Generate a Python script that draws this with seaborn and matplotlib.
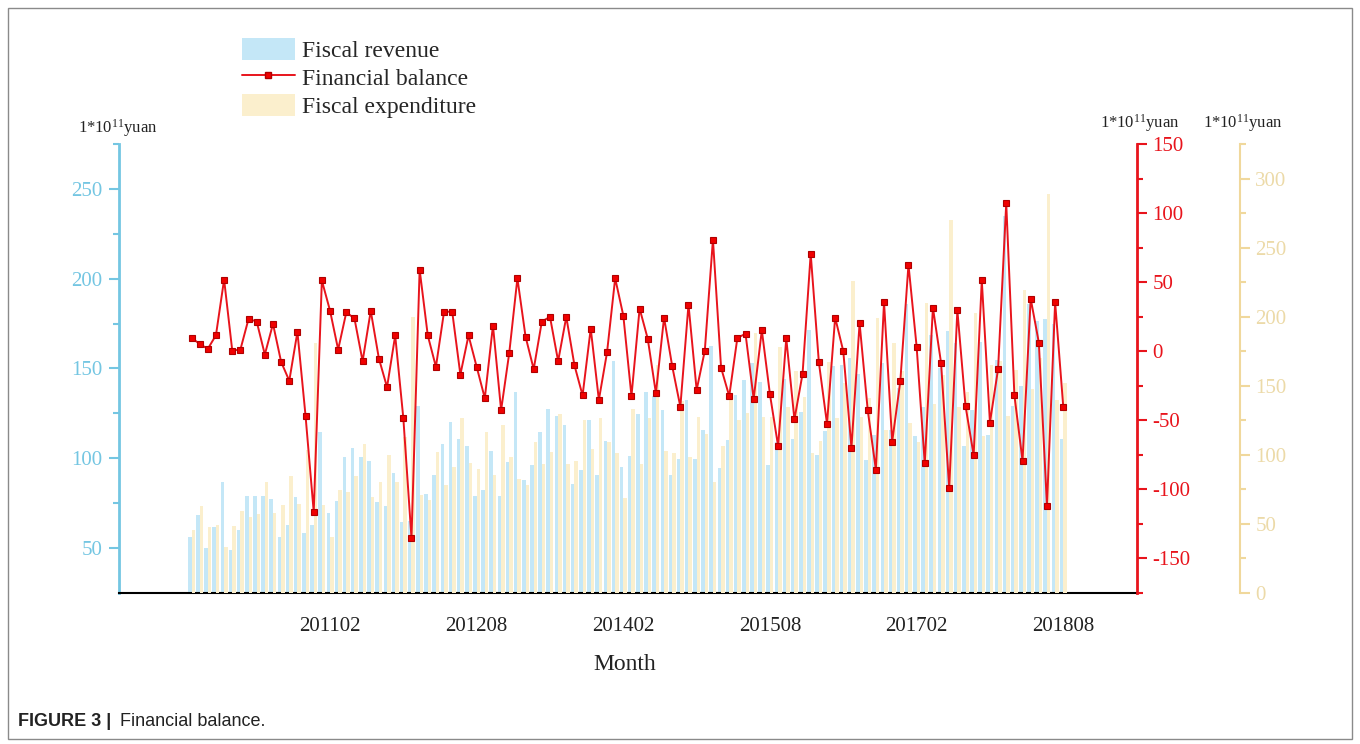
import numpy as np
import matplotlib
matplotlib.use("Agg")
import matplotlib.pyplot as plt
from matplotlib.patches import Patch, Rectangle
from matplotlib.lines import Line2D
import seaborn as sns

# ---------------- data (monthly, 2009-09 .. 2018-08) ----------------
revenue = [56.1, 68.6, 50.0, 62.0, 86.6, 49.0, 60.2, 79.2, 79.2, 78.8, 77.5, 56.1,
           62.8, 78.4, 58.4, 62.8, 114.7, 69.8, 76.0, 100.7, 105.7, 100.5, 98.5, 75.4,
           73.6, 91.8, 64.3, 65.0, 128.9, 80.1, 90.5, 108.0, 120.0, 110.8, 106.6, 78.8,
           82.5, 104.2, 78.8, 97.7, 136.7, 87.7, 96.0, 114.4, 127.5, 123.7, 118.3, 85.7,
           93.6, 121.5, 90.9, 109.4, 154.4, 94.9, 101.1, 124.9, 136.7, 134.5, 126.7, 90.9,
           99.6, 132.7, 99.6, 115.9, 162.4, 94.6, 110.0, 135.1, 143.8, 153.1, 142.5, 96.4,
           109.0, 144.2, 110.8, 125.6, 171.6, 102.0, 115.0, 151.2, 152.0, 156.0, 147.2, 98.8,
           113.0, 153.1, 115.6, 139.2, 186.0, 112.6, 128.5, 168.7, 150.0, 170.7, 164.4, 106.6,
           127.1, 165.0, 113.2, 155.0, 234.8, 128.9, 140.1, 186.1, 176.3, 177.3, 175.0, 110.8]

balance = [9.7, 5.3, 1.7, 11.6, 51.9, 0.5, 1.2, 23.4, 21.5, -2.4, 19.8, -7.7,
           -21.4, 14.0, -47.0, -116.2, 51.2, 29.4, 1.2, 28.2, 23.7, -7.2, 29.2, -5.3,
           -26.0, 11.4, -48.5, -135.3, 59.1, 11.4, -11.3, 28.7, 28.5, -16.9, 11.4, -11.3,
           -34.0, 18.6, -42.7, -1.2, 52.8, 10.6, -13.0, 21.5, 24.9, -7.2, 24.9, -10.1,
           -32.0, 16.4, -35.2, -0.9, 52.8, 25.8, -32.5, 30.9, 9.0, -30.4, 24.4, -10.8,
           -40.2, 33.8, -28.0, 0.3, 80.8, -12.0, -32.5, 9.7, 12.6, -34.5, 15.2, -31.3,
           -68.7, 9.4, -49.4, -16.4, 70.5, -7.9, -52.5, 24.4, 0.0, -69.9, 20.3, -42.7,
           -85.8, 35.5, -65.5, -21.7, 62.7, 3.4, -81.2, 31.6, -8.4, -99.1, 29.7, -39.5,
           -75.2, 51.2, -51.6, -12.8, 107.1, -31.8, -79.3, 38.1, 6.3, -111.9, 35.5, -40.2]

expenditure = [45.8, 62.8, 47.5, 49.4, 33.1, 48.8, 59.2, 54.9, 57.3, 80.3, 57.8, 64.0,
               84.7, 64.6, 103.3, 180.7, 63.4, 40.3, 74.2, 73.0, 84.7, 107.6, 69.4, 80.3,
               99.6, 80.3, 113.0, 200.0, 70.6, 67.5, 102.0, 77.9, 91.2, 127.0, 94.3, 90.0,
               116.5, 85.1, 121.4, 98.4, 82.7, 77.9, 109.3, 93.6, 102.0, 129.9, 93.1, 95.5,
               125.5, 104.5, 127.0, 109.3, 101.4, 68.9, 133.5, 93.6, 127.0, 165.0, 102.5, 101.6,
               139.0, 98.4, 127.4, 115.4, 80.3, 106.2, 142.0, 125.0, 130.6, 188.4, 127.4, 127.5,
               177.8, 134.5, 160.8, 142.0, 101.3, 110.0, 167.3, 127.0, 152.0, 226.0, 127.4, 140.8,
               198.8, 117.8, 181.1, 160.9, 123.0, 109.2, 209.7, 137.1, 158.0, 270.2, 134.7, 145.6,
               202.5, 114.0, 164.9, 168.0, 127.8, 161.3, 219.4, 148.0, 170.0, 289.0, 139.5, 151.7]

tick_labels = ["", "201102", "201208", "201402", "201508", "201702", "201808"]

# ---------------- style ----------------
sns.set_theme(style="white")
plt.rcParams["font.family"] = ["Liberation Serif", "DejaVu Serif"]
plt.rcParams["mathtext.fontset"] = "custom"
plt.rcParams["mathtext.rm"] = "Liberation Serif"
plt.rcParams["mathtext.it"] = "Liberation Serif:italic"
plt.rcParams["axes.unicode_minus"] = False

BLUE_BAR = "#c4e7f7"
YEL_BAR = "#fbefcd"
BLUE_AX = "#74c6e2"
RED = "#e8141c"
YEL_AX = "#f0d89c"
YEL_TXT = "#ecdaa8"

W, H = 1360, 744
fig = plt.figure(figsize=(W / 100, H / 100), dpi=100)
fig.patch.set_facecolor("white")

L, R, B, T = 119, 1137, 593, 144
ax = fig.add_axes([L / W, 1 - B / H, (R - L) / W, (B - T) / H])
ax_y = ax.twinx()
ax_r = ax.twinx()
for a in (ax, ax_y, ax_r):
    a.set_facecolor("none")
    a.grid(False)

n = len(revenue)
idx = np.arange(n)
half = 0.215
bw = 0.43

sns.barplot(x=idx - half, y=revenue, native_scale=True, width=bw, color=BLUE_BAR,
            saturation=1, linewidth=0, errorbar=None, orient="x", ax=ax)
sns.barplot(x=idx + half, y=expenditure, native_scale=True, width=bw, color=YEL_BAR,
            saturation=1, linewidth=0, errorbar=None, orient="x", ax=ax_y)
sns.lineplot(x=idx, y=balance, ax=ax_r, color=RED, linewidth=1.4, marker="s",
             markersize=4.6, markerfacecolor="#f00000", markeredgecolor="#b00000",
             markeredgewidth=0.8, legend=False)

# ---------------- axes ----------------
ax.set_xlim(-8.9, 116.05)
ax.set_ylim(25, 275)
ax_y.set_ylim(0, 325)
ax_r.set_ylim(-175, 150)
for a in (ax, ax_y, ax_r):
    a.set_xlabel("")
    a.set_ylabel("")

major_x = [-1, 17, 35, 53, 71, 89, 107]
ax.set_xticks(major_x)
ax.set_xticklabels(tick_labels)
ax.set_xticks([8, 26, 44, 62, 80, 98, 116], minor=True)
ax.tick_params(axis="x", which="major", direction="out", length=8, width=1.5,
               color="black", labelsize=15, pad=9, labelcolor="#222222")
ax.tick_params(axis="x", which="minor", direction="out", length=5, width=1.5, color="black")

ax.set_yticks([50, 100, 150, 200, 250])
ax.set_yticks([75, 125, 175, 225, 275], minor=True)
ax.tick_params(axis="y", which="major", direction="out", length=7, width=1.5,
               color=BLUE_AX, labelcolor=BLUE_AX, labelsize=15, pad=5)
ax.tick_params(axis="y", which="minor", direction="out", length=4, width=1.5, color=BLUE_AX)

ax_r.set_yticks([-150, -100, -50, 0, 50, 100, 150])
ax_r.set_yticks([-175, -125, -75, -25, 25, 75, 125], minor=True)
ax_r.tick_params(axis="y", which="major", direction="out", length=7, width=1.5,
                 color=RED, labelcolor=RED, labelsize=15, pad=4)
ax_r.tick_params(axis="y", which="minor", direction="out", length=4, width=1.5, color=RED)

ax_y.set_yticks([0, 50, 100, 150, 200, 250, 300])
ax_y.set_yticks([25, 75, 125, 175, 225, 275, 325], minor=True)
ax_y.tick_params(axis="y", which="major", direction="out", length=7, width=1.5,
                 color=YEL_AX, labelcolor=YEL_TXT, labelsize=15, pad=4)
ax_y.tick_params(axis="y", which="minor", direction="out", length=4, width=1.5, color=YEL_AX)
ax_y.spines["right"].set_position(("axes", (1240 - L) / (R - L)))

for s in ("top", "right"):
    ax.spines[s].set_visible(False)
ax.spines["left"].set_color(BLUE_AX)
ax.spines["left"].set_linewidth(2)
ax.spines["bottom"].set_color("black")
ax.spines["bottom"].set_linewidth(1.5)
for a in (ax_y, ax_r):
    for s in ("top", "left", "bottom"):
        a.spines[s].set_visible(False)
ax_r.spines["right"].set_color(RED)
ax_r.spines["right"].set_linewidth(2)
ax_y.spines["right"].set_color(YEL_AX)
ax_y.spines["right"].set_linewidth(1.5)

# ---------------- texts ----------------
unit = r"1*10$^{11}$yuan"
fig.text(78 / W, 1 - 128 / H, unit, fontsize=12, va="center", ha="left", color="#222222")
fig.text(1100 / W, 1 - 123 / H, unit, fontsize=12, va="center", ha="left", color="#222222")
fig.text(1203 / W, 1 - 123 / H, unit, fontsize=12, va="center", ha="left", color="#222222")
fig.text(625 / W, 1 - 664 / H, "Month", fontsize=17, ha="center", va="center", color="#222222")

handles = [Patch(facecolor=BLUE_BAR, edgecolor="none"),
           Line2D([0], [0], color=RED, lw=1.4, marker="s", markersize=4.6,
                  markerfacecolor="#f00000", markeredgecolor="#b00000"),
           Patch(facecolor=YEL_BAR, edgecolor="none")]
labels = ["Fiscal revenue", "Financial balance", "Fiscal expenditure"]
fig.legend(handles, labels, loc="upper left", bbox_to_anchor=(242 / W, 1 - 38 / H),
           frameon=False, fontsize=17, handlelength=2.23, handleheight=1.06,
           handletextpad=0.3, labelspacing=0.16, borderpad=0, borderaxespad=0)

fig.text(18 / W, 1 - 722 / H, "FIGURE 3 |", fontsize=13, fontweight="bold",
         family=["Liberation Sans", "DejaVu Sans"], va="center", ha="left", color="#222222")
fig.text(120 / W, 1 - 722 / H, "Financial balance.", fontsize=13,
         family=["Liberation Sans", "DejaVu Sans"], va="center", ha="left", color="#222222")

fig.add_artist(Rectangle((8 / W, 5 / H), (1352 - 8) / W, (736 - 5) / H,
                         transform=fig.transFigure, fill=False,
                         edgecolor="#8a8a8a", linewidth=1.0))

fig.savefig("out.png", dpi=100)
